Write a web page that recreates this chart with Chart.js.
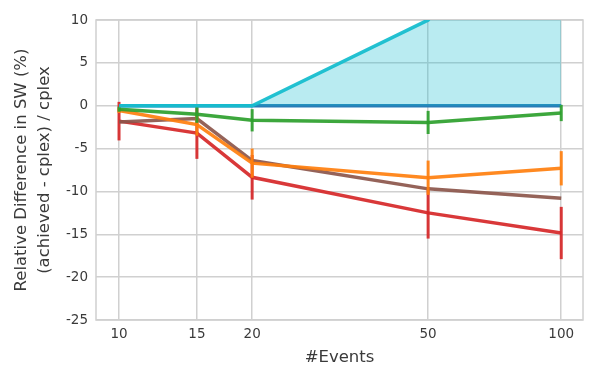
<!DOCTYPE html>
<html>
<head>
<meta charset="utf-8">
<script src="https://cdn.jsdelivr.net/npm/chart.js@4.4.1/dist/chart.umd.min.js"></script>
<style>
  html, body { margin: 0; padding: 0; background: #fff; }
  #wrap { width: 598px; height: 382px; }
</style>
</head>
<body>
<div id="wrap"><canvas id="chart"></canvas></div>
<script>
// x positions (number of events) and y tick labels
const events = [10, 15, 20, 50, 100];
const yTicks = [-25, -20, -15, -10, -5, 0, 5, 10];

// series values (% difference)
const blueVals   = [0, 0, 0, 0, 0];
const cyanVals   = [0, 0, 0, 10, 30];
const greenVals  = [-0.4, -1.0, -1.7, -1.95, -0.85];
const greenErr   = [0.3, 1.0, 1.3, 1.35, 0.95];
const orangeVals = [-0.55, -2.2, -6.7, -8.4, -7.3];
const orangeErr  = [0.3, 1.3, 1.7, 2.0, 2.0];
const brownVals  = [-1.9, -1.5, -6.4, -9.7, -10.8];
const redVals    = [-1.8, -3.2, -8.35, -12.5, -14.85];
const redErr     = [2.25, 3.0, 2.6, 3.0, 3.05];

const FONT = 'DejaVu Sans';
const GRID = '#d0d0d0';
const TEXT = '#3a3a3a';

function pts(vals) {
  return vals.map((v, i) => ({ x: events[i], y: v }));
}

function series(vals, color, order, extra) {
  return Object.assign({
    data: pts(vals),
    borderColor: color,
    backgroundColor: color,
    borderWidth: 3.5,
    pointRadius: 0,
    tension: 0,
    fill: false,
    order: order
  }, extra || {});
}

// vertical error bars, drawn right after their own line
const errorBars = {
  id: 'errorBars',
  afterDatasetDraw(chart, args) {
    const ds = chart.data.datasets[args.index];
    if (!ds.errors) return;
    const { ctx, chartArea, scales: { x, y } } = chart;
    ctx.save();
    ctx.beginPath();
    ctx.rect(chartArea.left, chartArea.top, chartArea.right - chartArea.left, chartArea.bottom - chartArea.top);
    ctx.clip();
    ctx.strokeStyle = ds.borderColor;
    ctx.lineWidth = 3;
    ds.data.forEach((p, i) => {
      const e = ds.errors[i];
      const px = x.getPixelForValue(p.x);
      ctx.beginPath();
      ctx.moveTo(px, y.getPixelForValue(p.y + e));
      ctx.lineTo(px, y.getPixelForValue(p.y - e));
      ctx.stroke();
    });
    ctx.restore();
  }
};

// light grey frame round the plot area
const frame = {
  id: 'frame',
  beforeDatasetsDraw(chart) {
    const { ctx, chartArea: a } = chart;
    ctx.save();
    ctx.strokeStyle = GRID;
    ctx.lineWidth = 1.5;
    ctx.strokeRect(a.left, a.top, a.right - a.left, a.bottom - a.top);
    ctx.restore();
  }
};

new Chart(document.getElementById('chart'), {
  type: 'line',
  data: {
    datasets: [
      series(blueVals, 'rgba(31,119,180,0.95)', 6),
      series(cyanVals, 'rgba(23,190,207,0.95)', 1, { fill: { target: 0 }, backgroundColor: 'rgba(23,190,207,0.3)' }),
      series(greenVals, 'rgba(44,160,44,0.92)', 2, { errors: greenErr }),
      series(orangeVals, 'rgba(255,127,14,0.92)', 3, { errors: orangeErr }),
      series(brownVals, 'rgba(140,86,75,0.92)', 4),
      series(redVals, 'rgba(214,39,40,0.92)', 5, { errors: redErr })
    ]
  },
  options: {
    responsive: true,
    maintainAspectRatio: false,
    animation: false,
    layout: { padding: { left: 0, right: 15, top: 20, bottom: 0 } },
    plugins: {
      legend: { display: false },
      tooltip: { enabled: false }
    },
    scales: {
      x: {
        type: 'logarithmic',
        min: 8.87,
        max: 112,
        afterBuildTicks: s => { s.ticks = events.map(v => ({ value: v })); },
        afterFit: s => { s.height = 62; },
        ticks: {
          callback: v => String(v),
          color: TEXT,
          font: { family: FONT, size: 13.5 },
          padding: 6,
          maxRotation: 0,
          autoSkip: false
        },
        grid: { color: GRID, lineWidth: 1.5, drawTicks: false },
        border: { display: false },
        title: {
          display: true,
          text: '#Events',
          color: TEXT,
          font: { family: FONT, size: 16.5 },
          padding: { top: 4, bottom: 14 }
        }
      },
      y: {
        min: -25,
        max: 10,
        afterBuildTicks: s => { s.ticks = yTicks.map(v => ({ value: v })); },
        afterFit: s => { s.width = 96; },
        ticks: {
          color: TEXT,
          font: { family: FONT, size: 13.5 },
          padding: 8
        },
        grid: { color: GRID, lineWidth: 1.5, drawTicks: false },
        border: { display: false },
        title: {
          display: true,
          text: ['Relative Difference in SW (%)', '(achieved - cplex) / cplex'],
          color: TEXT,
          font: { family: FONT, size: 16.5, lineHeight: 1.4 },
          padding: { top: 10, bottom: 0 }
        }
      }
    }
  },
  plugins: [errorBars, frame]
});
</script>
</body>
</html>
